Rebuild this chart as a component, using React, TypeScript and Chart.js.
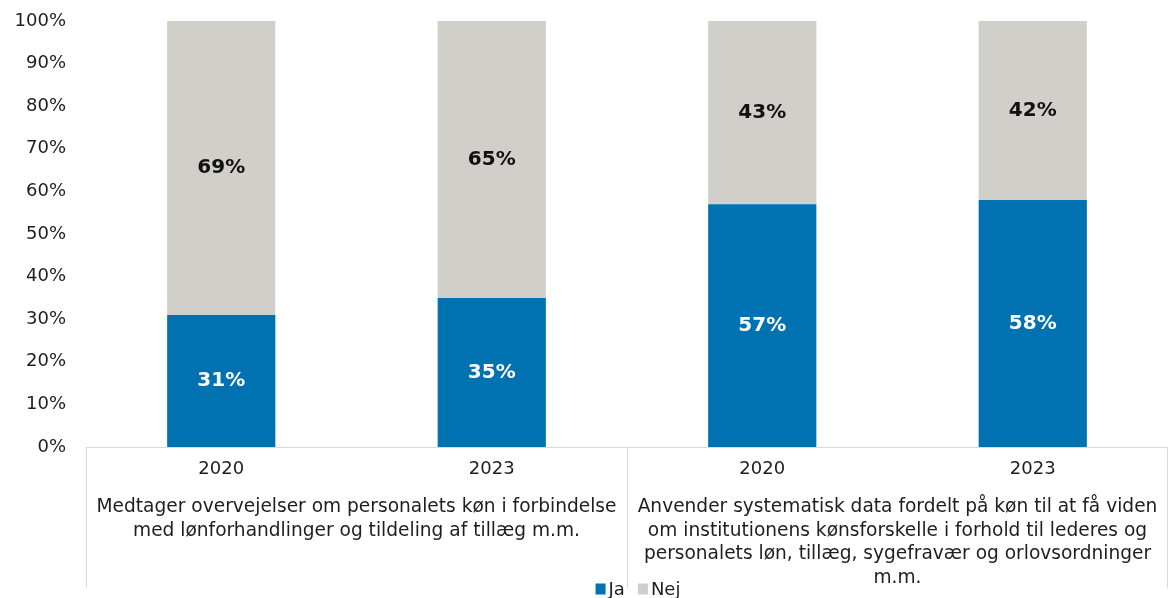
import React, { useEffect, useRef } from "react";
import { Chart, registerables } from "chart.js";

Chart.register(...registerables);

const years = ["2020", "2023", "2020", "2023"];
const groupLabels = [
  [
    "Medtager overvejelser om personalets køn i forbindelse",
    "med lønforhandlinger og tildeling af tillæg m.m.",
  ],
  [
    "Anvender systematisk data fordelt på køn til at få viden",
    "om institutionens kønsforskelle i forhold til lederes og",
    "personalets løn, tillæg, sygefravær og orlovsordninger",
    "m.m.",
  ],
];
const seriesNames = ["Ja", "Nej"];
const jaValues = [31, 35, 57, 58];
const nejValues = [69, 65, 43, 42];
const seriesColors = ["#0071B1", "#D0CFCA"];
const labelColors = ["#FFFFFF", "#111111"];

const FONT = "'DejaVu Sans', Verdana, sans-serif";
const TEXT = "#1e1e1e";
const LINE = "#D9D9D9";

const valueLabels = {
  id: "valueLabels",
  afterDatasetsDraw(chart: any) {
    const ctx = chart.ctx;
    ctx.save();
    ctx.font = `bold 20px ${FONT}`;
    ctx.textAlign = "center";
    ctx.textBaseline = "middle";
    chart.data.datasets.forEach((ds: any, di: number) => {
      const meta = chart.getDatasetMeta(di);
      meta.data.forEach((el: any, i: number) => {
        const v = ds.data[i];
        const cy = (el.y + el.base) / 2;
        ctx.fillStyle = labelColors[di];
        ctx.fillText(`${v}%`, el.x, cy);
      });
    });
    ctx.restore();
  },
};

const groupAxis = {
  id: "groupAxis",
  afterDraw(chart: any) {
    const ctx = chart.ctx;
    const x = chart.scales.x;
    const area = chart.chartArea;
    ctx.save();
    // separators
    const p = years.map((_, i) => x.getPixelForValue(i));
    const bounds = [area.left, (p[1] + p[2]) / 2, area.right - 1];
    ctx.strokeStyle = LINE;
    ctx.lineWidth = 1;
    bounds.forEach((bx) => {
      const xx = Math.round(bx) + 0.5;
      ctx.beginPath();
      ctx.moveTo(xx, area.bottom);
      ctx.lineTo(xx, area.bottom + 141);
      ctx.stroke();
    });
    // group labels
    ctx.font = `18.6px ${FONT}`;
    ctx.fillStyle = TEXT;
    ctx.textAlign = "center";
    ctx.textBaseline = "middle";
    groupLabels.forEach((lines, g) => {
      const cx = (p[2 * g] + p[2 * g + 1]) / 2;
      lines.forEach((line, k) => {
        ctx.fillText(line, cx, area.bottom + 60 + k * 23.7);
      });
    });
    // legend
    ctx.font = `18px ${FONT}`;
    ctx.textAlign = "left";
    const box = 10;
    const gapText = 3;
    const gapItem = 13;
    const widths = seriesNames.map((n) => box + gapText + ctx.measureText(n).width);
    const total = widths.reduce((a, b) => a + b, 0) + gapItem * (seriesNames.length - 1);
    let lx = (area.left + area.right) / 2 + 11 - total / 2;
    const ly = area.bottom + 142;
    seriesNames.forEach((n, i) => {
      ctx.fillStyle = seriesColors[i];
      ctx.fillRect(lx, ly - box / 2 - 0.5, box, box + 1);
      ctx.fillStyle = TEXT;
      ctx.fillText(n, lx + box + gapText, ly + 1);
      lx += widths[i] + gapItem;
    });
    ctx.restore();
  },
};

export default function App() {
  const ref = useRef<HTMLCanvasElement>(null);
  useEffect(() => {
    if (!ref.current) return;
    Chart.defaults.font.family = FONT;
    Chart.defaults.color = TEXT;
    const chart = new Chart(ref.current, {
      type: "bar",
      data: {
        labels: years,
        datasets: [
          {
            label: seriesNames[0],
            data: jaValues,
            backgroundColor: seriesColors[0],
            barPercentage: 0.4,
            categoryPercentage: 1,
          },
          {
            label: seriesNames[1],
            data: nejValues,
            backgroundColor: seriesColors[1],
            barPercentage: 0.4,
            categoryPercentage: 1,
          },
        ],
      },
      options: {
        animation: false,
        responsive: true,
        maintainAspectRatio: false,
        layout: { padding: { top: 0, left: 0, right: 0, bottom: 0 } },
        plugins: {
          legend: { display: false },
          tooltip: { enabled: false },
        },
        scales: {
          x: {
            stacked: true,
            grid: { display: false, drawTicks: false },
            border: { display: true, color: LINE, width: 1 },
            ticks: { font: { size: 18 }, color: TEXT, padding: 12, maxRotation: 0 },
            afterFit: (scale: any) => {
              scale.height = 151;
            },
          },
          y: {
            stacked: true,
            min: 0,
            max: 100,
            grid: { display: false, drawTicks: false },
            border: { display: false },
            ticks: {
              stepSize: 10,
              font: { size: 18 },
              color: TEXT,
              padding: 20,
              callback: (v: any) => `${v}%`,
            },
            afterFit: (scale: any) => {
              scale.width = 86;
              scale.paddingTop = 21;
              scale.paddingBottom = 11;
            },
          },
        },
      },
      plugins: [valueLabels, groupAxis],
    });
    return () => chart.destroy();
  }, []);
  return (
    <div style={{ position: "fixed", left: 0, top: 0, width: 1168, height: 598, background: "#fff" }}>
      <canvas ref={ref} />
    </div>
  );
}
